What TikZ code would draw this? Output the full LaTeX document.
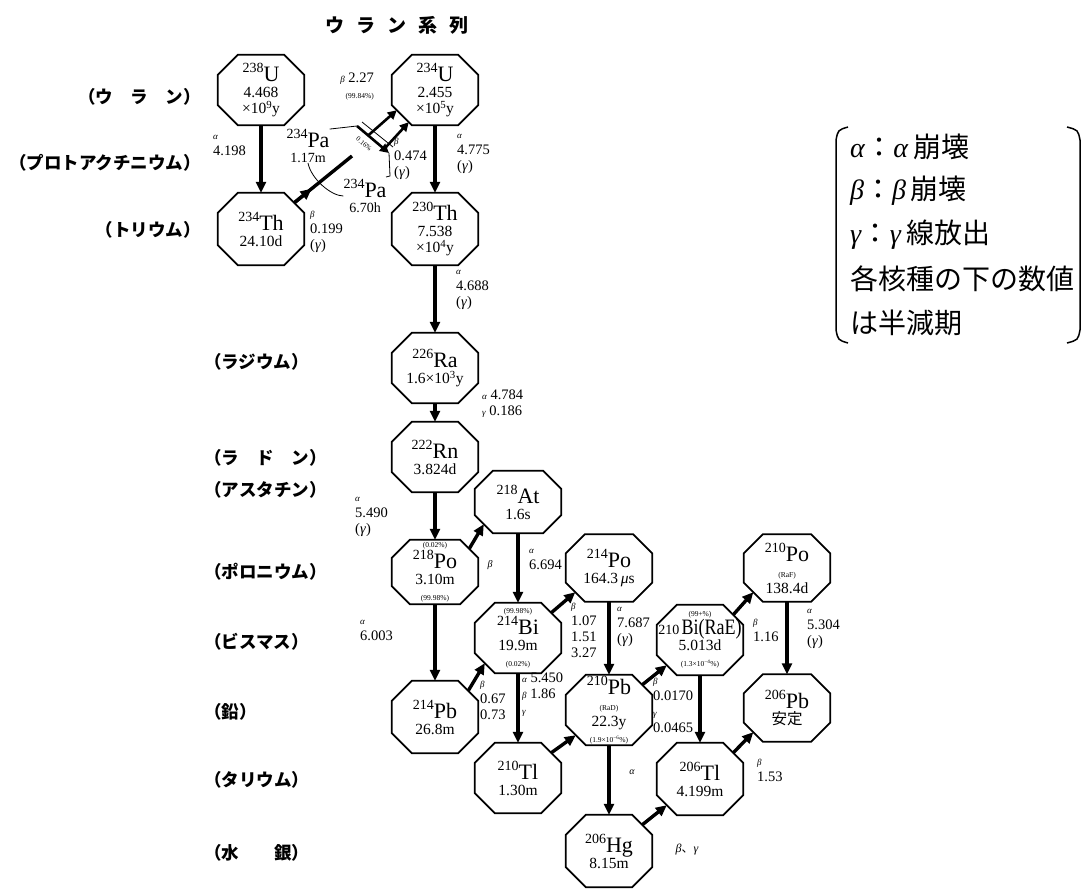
\documentclass[tikz,border=0pt]{standalone}
\usepackage{fontspec}
\setmainfont{Liberation Serif}
\newfontfamily\jp{Noto Sans CJK JP}
\usetikzlibrary{calc, arrows.meta}

% nuclide: mass number raised before the symbol
\newcommand\nuc[2]{\raisebox{9pt}{\fontsize{14}{14}\selectfont #1}{\fontsize{22}{22}\selectfont #2}}
\newcommand\gk[1]{{\fontsize{9}{9}\selectfont\itshape #1}}
\newcommand\sm[1]{{\fontsize{7.5}{8}\selectfont #1}}

\begin{document}
\begin{tikzpicture}[x=1pt, y=-1pt,
  nucl/.style={minimum width=86pt, minimum height=70pt, inner sep=0pt, align=center,
               font=\fontsize{15.5}{16}\selectfont},
  octline/.style={line width=1.8pt, line join=miter},
  decay/.style={line width=3.4pt, -{Triangle[length=11pt,width=10pt]}},
  thinarr/.style={line width=2.6pt, -{Triangle[length=9pt,width=9pt]}},
  lead/.style={line width=0.8pt},
  lbl/.style={anchor=north west, inner sep=0pt, align=left, font=\fontsize{14.5}{16}\selectfont},
  row/.style={font=\jp\bfseries\fontsize{17.5}{19}\selectfont, inner sep=0pt},
  leg/.style={anchor=west, inner sep=0pt, font=\fontsize{28}{30}\selectfont},
  brk/.style={line width=1.5pt}]
  \useasboundingbox (0,0) rectangle (1084,889);

  % Title
  \node[font=\jp\bfseries\fontsize{19}{20}\selectfont] (title) at (397,25)
    {ウ\hspace{12pt}ラ\hspace{12pt}ン\hspace{12pt}系\hspace{12pt}列};

  % Element rows
  \node[row, anchor=east] (rU) at (201,97) {（ウ　ラ　ン）};
  \node[row, anchor=east] (rPa) at (201,163) {（プロトアクチニウム）};
  \node[row, anchor=east] (rTh) at (201,230) {（トリウム）};
  \node[row, anchor=west] (rRa) at (204,362) {（ラジウム）};
  \node[row, anchor=west] (rRn) at (204,458) {（ラ　ド　ン）};
  \node[row, anchor=west] (rAt) at (204,490) {（アスタチン）};
  \node[row, anchor=west] (rPo) at (204,572) {（ポロニウム）};
  \node[row, anchor=west] (rBi) at (204,642) {（ビスマス）};
  \node[row, anchor=west] (rPb) at (204,712) {（鉛）};
  \node[row, anchor=west] (rTl) at (204,780) {（タリウム）};
  \node[row, anchor=west] (rHg) at (204,853) {（水　　銀）};

  % Nuclides
  \node[nucl] (u238) at (261,90) {\nuc{238}{U}\\4.468\\×10\textsuperscript{9}y};
  \node[nucl] (u234) at (435,90) {\nuc{234}{U}\\2.455\\×10\textsuperscript{5}y};
  \node[nucl, minimum height=72pt] (th234) at (261,229) {\nuc{234}{Th}\\24.10d};
  \node[nucl, minimum height=72pt] (th230) at (435,229) {\nuc{230}{Th}\\7.538\\×10\textsuperscript{4}y};
  \node[nucl] (ra226) at (435,368) {\nuc{226}{Ra}\\1.6×10\textsuperscript{3}y};
  \node[nucl] (rn222) at (435,457) {\nuc{222}{Rn}\\3.824d};
  \node[nucl, minimum height=62pt] (at218) at (518,502) {\nuc{218}{At}\\1.6s};
  \node[nucl, minimum height=64pt] (po218) at (435,572)
    {\sm{(0.02\%)}\\\nuc{218}{Po}\\3.10m\\\sm{(99.98\%)}};
  \node[nucl] (bi214) at (518,638) {\sm{(99.98\%)}\\\nuc{214}{Bi}\\19.9m\\\sm{(0.02\%)}};
  \node[nucl, minimum height=67pt] (po214) at (609,568) {\nuc{214}{Po}\\164.3\,\textit{μ}s};
  \node[nucl, minimum height=72pt] (pb214) at (435,717) {\nuc{214}{Pb}\\26.8m};
  \node[nucl] (pb210) at (609,710)
    {\nuc{210}{Pb}\\\sm{(RaD)}\\22.3y\\\sm{(1.9×10\textsuperscript{−6}\%)}};
  \node[nucl] (tl210) at (518,778) {\nuc{210}{Tl}\\1.30m};
  \node[nucl] (bi210) at (700,640)
    {\sm{(99+\%)}\\{\fontsize{14}{14}\selectfont 210\,}\scalebox{0.82}[1]{\fontsize{22}{22}\selectfont Bi(RaE)}\\5.013d\\\sm{(1.3×10\textsuperscript{−4}\%)}};
  \node[nucl, minimum height=67pt] (po210) at (787,568) {\nuc{210}{Po}\\\sm{(RaF)}\\138.4d};
  \node[nucl, minimum height=67pt] (pb206) at (787,708) {\nuc{206}{Pb}\\{\jp 安定}};
  \node[nucl, minimum height=72pt] (tl206) at (700,779) {\nuc{206}{Tl}\\4.199m};
  \node[nucl, minimum height=72pt] (hg206) at (609,851) {\nuc{206}{Hg}\\8.15m};

  % Octagon outlines and chamfer points
  \foreach \n/\oc in {u238/20, u234/20, th234/20, th230/20, ra226/20, rn222/20, at218/18,
                      po218/18, bi214/20, po214/19, pb214/20, pb210/20, tl210/20, bi210/20,
                      po210/19, pb206/19, tl206/20, hg206/20} {
    \draw[octline] ($(\n.north west)+(\oc,0)$) -- ($(\n.north east)+(-\oc,0)$)
      -- ($(\n.north east)+(0,\oc)$) -- ($(\n.south east)+(0,-\oc)$)
      -- ($(\n.south east)+(-\oc,0)$) -- ($(\n.south west)+(\oc,0)$)
      -- ($(\n.south west)+(0,-\oc)$) -- ($(\n.north west)+(0,\oc)$) -- cycle;
    \coordinate (\n-ne) at ($(\n.north east)+(-0.5*\oc,0.5*\oc)$);
    \coordinate (\n-sw) at ($(\n.south west)+(0.5*\oc,-0.5*\oc)$);
  }

  % Alpha decays
  \foreach \a/\b in {u238/th234, u234/th230, th230/ra226, ra226/rn222, rn222/po218,
                     po218/pb214, at218/bi214, bi214/tl210, po214/pb210, pb210/hg206,
                     bi210/tl206, po210/pb206}
    \draw[decay] (\a) -- (\b);

  % Beta decays
  \foreach \a/\b in {po218/at218, pb214/bi214, bi214/po214, tl210/pb210, pb210/bi210,
                     bi210/po210, hg206/tl206, tl206/pb206}
    \draw[decay] (\a-ne) -- (\b-sw);

  % Protactinium branch
  \node[align=center, inner sep=0pt, font=\fontsize{14}{15}\selectfont] (pamlab) at (308,146)
    {\nuc{234}{Pa}\\1.17m};
  \node[align=center, inner sep=0pt, font=\fontsize{14}{15}\selectfont] (pglab) at (365,196)
    {\nuc{234}{Pa}\\6.70h};
  \coordinate (pam) at (357,126);
  \coordinate (pag) at (389,153);
  \coordinate (thx) at (352,156);
  \draw[line width=3.4pt] (th234-ne) -- (thx);
  \draw[decay] (th234-ne) -- ($(th234-ne)!0.3!(thx)$);
  \draw[lead] (pamlab.north east) -- (pam);
  \draw[thinarr] (pam) -- (pag);
  \draw[lead] ($(pam)+(5,-4)$) -- ($(pag)+(4,-6)$);
  \draw[thinarr] ($(pam)!0.35!(pag)$) -- ($(u234-sw)+(-5,-5)$);
  \draw[thinarr] ($(pam)!0.85!(pag)$) -- ($(u234-sw)+(7,7)$);
  \draw[lead] (pag) -- ++(1,23) -- ++(-4,1);
  \draw[lead] (pamlab.south) .. controls +(3,16) and +(-12,0) .. (pglab.west);

  % Decay energies
  \node[lbl] (dU238) at (213,135) {\gk{α}\\4.198};
  \node[lbl] (dTh234) at (310,211) {\gk{β}\\0.199\\(\textit{γ})};
  \node[lbl, anchor=north east, align=right] (dPam) at (374,73) {\gk{β} 2.27\\\sm{(99.84\%)}};
  \node[font=\fontsize{7}{7}\selectfont, rotate=-40, inner sep=0pt] (dIT) at (364,144) {0.16\%};
  \node[lbl] (dPag) at (394,138) {\gk{β}\\0.474\\(\textit{γ})};
  \node[lbl] (dU234) at (457,134) {\gk{α}\\4.775\\(\textit{γ})};
  \node[lbl] (dTh230) at (456,270) {\gk{α}\\4.688\\(\textit{γ})};
  \node[lbl] (dRa226) at (482,390) {\gk{α} 4.784\\\gk{γ} 0.186};
  \node[lbl] (dRn222) at (355,497) {\gk{α}\\5.490\\(\textit{γ})};
  \node[inner sep=0pt, font=\fontsize{10}{10}\selectfont\itshape] (dPo218b) at (490,565) {β};
  \node[lbl] (dAt218) at (529,549) {\gk{α}\\6.694};
  \node[lbl] (dPo218a) at (360,620) {\gk{α}\\6.003};
  \node[lbl] (dBi214b) at (571,603) {\gk{β}\\1.07\\1.51\\3.27};
  \node[lbl] (dPo214) at (617,607) {\gk{α}\\7.687\\(\textit{γ})};
  \node[lbl] (dPb214) at (480,681) {\gk{β}\\0.67\\0.73};
  \node[lbl] (dBi214a) at (522,673) {\gk{α} 5.450\\\gk{β} 1.86\\\gk{γ}};
  \node[lbl] (dPb210b) at (653,678) {\gk{β}\\0.0170\\\gk{γ}\\0.0465};
  \node[lbl] (dBi210) at (753,619) {\gk{β}\\1.16};
  \node[lbl] (dPo210) at (807,609) {\gk{α}\\5.304\\(\textit{γ})};
  \node[inner sep=0pt, font=\fontsize{10}{10}\selectfont\itshape] (dPb210a) at (632,772) {α};
  \node[lbl] (dTl206) at (757,759) {\gk{β}\\1.53};
  \node[inner sep=0pt, font=\fontsize{12}{12}\selectfont] (dHg206) at (687,850)
    {\textit{β}{\jp 、}\textit{γ}};

  % Legend
  \draw[brk] (848,127) .. controls (838,130) .. (836,140) -- (836,330) .. controls (838,340) .. (848,343);
  \draw[brk] (1067,127) .. controls (1078,130) .. (1080,140) -- (1080,330) .. controls (1078,340) .. (1067,343);
  \node[leg] (lA) at (850,147) {\textit{α}{\jp ：}\textit{α}\,{\jp 崩壊}};
  \node[leg] (lB) at (850,191) {\textit{β}{\jp ：}\textit{β}\,{\jp 崩壊}};
  \node[leg] (lC) at (850,235) {\textit{γ}{\jp ：}\textit{γ}\,{\jp 線放出}};
  \node[leg] (lD) at (850,279) {\jp 各核種の下の数値};
  \node[leg] (lE) at (850,323) {\jp は半減期};
\end{tikzpicture}
\end{document}
